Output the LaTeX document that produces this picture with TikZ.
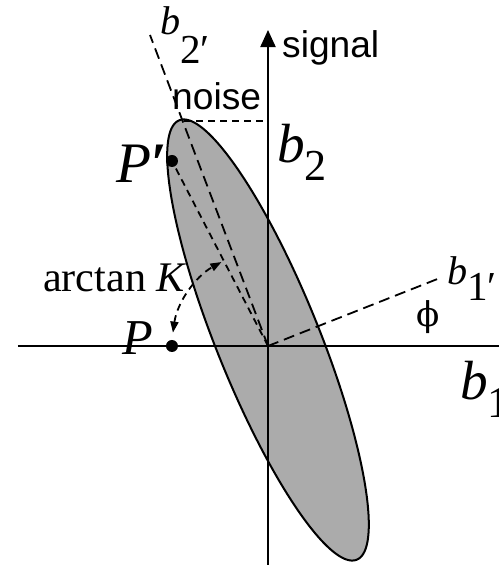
\documentclass[tikz,border=0pt]{standalone}
\usepackage{tikz}
\usepackage{xcolor}
\usepackage{amsmath}
\usepackage{fontspec}
\usetikzlibrary{arrows.meta}
\setmainfont{Liberation Serif}
\newfontfamily\sanslabel{Liberation Sans}
\newfontfamily\greeklabel{DejaVu Serif}
\newcommand{\bsub}[4]{\fontsize{#1}{#1}\selectfont\textit{b}\raisebox{-#4pt}{\fontsize{#2}{#2}\selectfont #3}}
\tikzset{
  axis/.style={line width=2pt},
  longdash/.style={line width=1.8pt, dash pattern=on 11pt off 6pt},
  shortdash/.style={line width=1.8pt, dash pattern=on 7pt off 5pt},
  lab/.style={inner sep=0pt}
}

\begin{document}
\begin{tikzpicture}[scale=0.35]
            \useasboundingbox (-26.8,-21.9) rectangle (23.0,34.6);
            \coordinate (O) at (0,0);
            \coordinate (hL) at (-25,0);
            \coordinate (hR) at (23.5,0);
            \coordinate (vB) at (0,-22.5);
            \coordinate (vT) at (0,31.6);
            \coordinate (btwoend) at (-11.8,31.1);
            \coordinate (boneend) at (17.2,6.8);
            \coordinate (etop) at (-8.4,22.5);
            \coordinate (etopy) at (0,22.5);
            \coordinate (P) at (-9.6,0);
            \coordinate (Pp) at (-9.6,18.5);
            % ellipse
            \draw[line width=2pt, fill=black!33, rotate around={112:(0,0.6)}] (0,0.6) ellipse (23.7 and 5.15);
            % axes
            \draw[axis] (hL) -- (hR);
            \draw[axis, -{Triangle[length=17pt,width=15pt]}] (vB) -- (vT);
            % rotated axes
            \draw[longdash] (O) -- (btwoend);
            \draw[longdash] (O) -- (boneend);
            \draw[shortdash] (O) -- (Pp);
            \draw[shortdash] (etop) -- (etopy);
            \draw[shortdash, {Triangle[length=11pt,width=8pt]}-{Triangle[length=11pt,width=8pt]}] ([shift={(172:9.6)}]O) arc[start angle=172, end angle=119, radius=9.6];
            \fill (P) circle[radius=0.6];
            \fill (Pp) circle[radius=0.6];
            % labels
            \node[lab, anchor=base west] (lbtwop) at (-10.8,31.1) {\bsub{40}{41}{2′}{28}};
            \node[lab, anchor=base west, font=\sanslabel\fontsize{37}{37}\selectfont] (lsignal) at (1.4,28.8) {signal};
            \node[lab, anchor=base west, font=\sanslabel\fontsize{37}{37}\selectfont] (lnoise) at (-9.6,23.6) {noise};
            \node[lab, anchor=base west] (lbtwo) at (0.9,18.3) {\bsub{55}{44}{2}{17}};
            \node[lab, anchor=base east] (lPp) at (-10.0,16.3) {\fontsize{57}{57}\selectfont\textit{P}\textbf{′}};
            \node[lab, anchor=base east] (lP) at (-11.5,-0.9) {\fontsize{50}{50}\selectfont\textit{P}};
            \node[lab, anchor=base west] (lK) at (-22.5,5.4) {\fontsize{42}{42}\selectfont arctan \textit{K}};
            \node[lab, anchor=base] (lphi) at (16.0,1.9) {\greeklabel\fontsize{34}{34}\selectfont ϕ};
            \node[lab, anchor=base west] (lbonep) at (17.9,6.1) {\bsub{40}{41}{1′}{15}};
            \node[lab, anchor=base west] (lbone) at (19.2,-5.4) {\bsub{55}{44}{1}{17}};
        \end{tikzpicture}
\end{document}
